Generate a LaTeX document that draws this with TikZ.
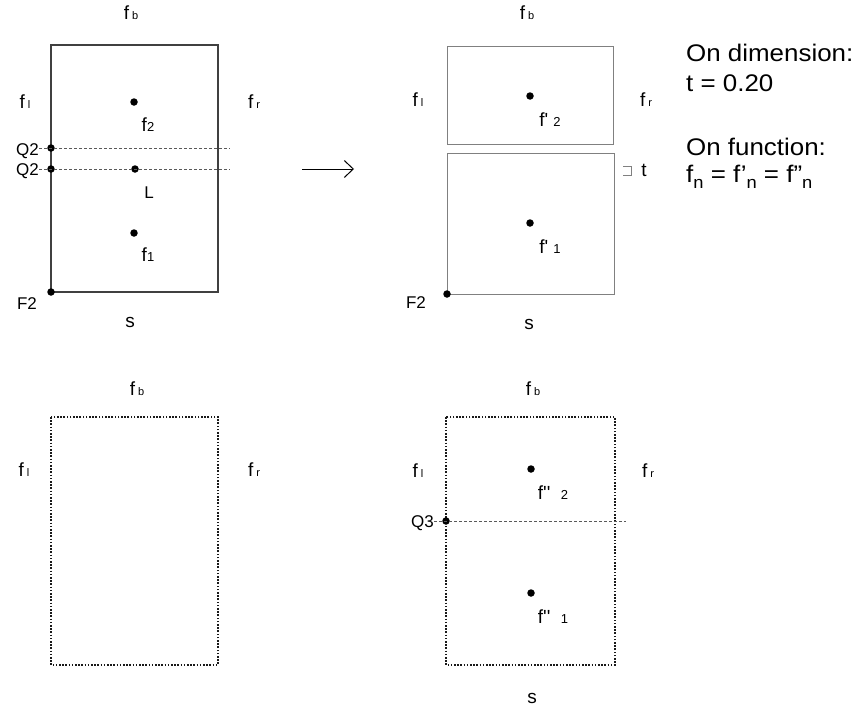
\documentclass[tikz,border=0pt]{standalone}
\usepackage{fontspec}
\setmainfont{Liberation Sans}
\newfontfamily\labf{Liberation Sans}
\newfontfamily\bigf{Liberation Sans}[FakeStretch=1.08]
\usetikzlibrary{arrows.meta}
\newcommand{\lbl}{\labf\fontsize{17}{17}\selectfont}
\newcommand{\flbl}{\labf\fontsize{19}{19}\selectfont}
\newcommand{\sml}[1]{{\fontsize{11}{11}\selectfont #1}}
\newcommand{\num}[1]{{\fontsize{13}{13}\selectfont #1}}
\newcommand{\fside}[1]{f\kern3pt\sml{#1}}
\newcommand{\nsub}{\raisebox{-6pt}{\fontsize{17}{17}\selectfont n}}
\begin{document}
\begin{tikzpicture}[x=1pt,y=-1pt,
  lab/.style={font=\lbl, inner sep=0pt},
  flab/.style={font=\flbl, inner sep=0pt},
  big/.style={font=\bigf\fontsize{24}{24}\selectfont, inner sep=0pt, anchor=base west},
  dot/.style={circle, fill=black, inner sep=0pt, minimum size=7.5pt},
  boxA/.style={draw=black!75, line width=1.1pt},
  boxB/.style={draw=black!50, line width=1pt},
  dotbox/.style={draw=black!90, line width=1.7pt, dash pattern=on 1.6pt off 1.6pt},
  qline/.style={draw=black!65, line width=0.9pt, dash pattern=on 3pt off 2pt},
  arr/.style={-{Straight Barb[length=9pt,width=17pt,line width=1pt]}, line width=1pt}
]
\useasboundingbox (0,0) rectangle (860,707);

% ---------- top-left panel ----------
\draw[boxA] (51,45) rectangle (218,292);
\node[flab] (fbA) at (131,13) {\fside{b}};
\node[flab] (flA) at (25,102) {\fside{l}};
\node[flab] (frA) at (254,102) {\fside{r}};
\node[flab] (sA) at (130,322) {s};
\node[dot] (f2A) at (134,102) {};
\node[flab] (f2Al) at (148,125) {f\num{2}};
\node[dot] (LA) at (135,169) {};
\node[lab] (LAl) at (149,193) {L};
\node[dot] (f1A) at (134,233) {};
\node[flab] (f1Al) at (148,255) {f\num{1}};
\node[dot] (q2a) at (51,148) {};
\node[dot] (q2b) at (51,169) {};
\node[lab, anchor=east] (q2al) at (39,151) {Q2};
\node[lab, anchor=east] (q2bl) at (39,171) {Q2};
\coordinate (q2aend) at (230,148);
\coordinate (q2bend) at (230,169);
\draw[qline] (q2al.east |- q2a) -- (q2aend);
\draw[qline] (q2bl.east |- q2b) -- (q2bend);
\node[dot] (F2A) at (51,292) {};
\node[lab] (F2Al) at (27,304) {F2};

% ---------- arrow ----------
\coordinate (arS) at (302,169);
\coordinate (arE) at (354,169);
\draw[arr] (arS) -- (arE);

% ---------- top-right panel ----------
\draw[boxB] (447,46) rectangle (613,144);
\draw[boxB] (447,153) rectangle (614,294);
\node[flab] (fbB) at (527,13) {\fside{b}};
\node[flab] (flB) at (418,100) {\fside{l}};
\node[flab] (frB) at (646,100) {\fside{r}};
\node[flab] (sB) at (529,324) {s};
\node[dot] (f2B) at (530,96) {};
\node[flab] (f2Bl) at (550,120) {f' \num{2}};
\node[dot] (f1B) at (530,223) {};
\node[flab] (f1Bl) at (550,247) {f' \num{1}};
\node[dot] (F2B) at (447,294) {};
\node[lab] (F2Bl) at (416,303) {F2};
\draw[draw=black!50, line width=1pt] (623,166) -- (631,166) -- (631,175) -- (623,175);
\node[flab] (tB) at (644,170) {t};

% ---------- text ----------
\node[big] (t1) at (686,61) {On dimension:};
\node[big] (t2) at (686,91) {t = 0.20};
\node[big] (t3) at (686,155) {On function:};
\node[big] (t4) at (686,182) {f\nsub{} = f’\nsub{} = f”\nsub};

% ---------- bottom-left panel ----------
\draw[dotbox] (51,417) rectangle (218,665);
\node[flab] (fbC) at (137,389) {\fside{b}};
\node[flab] (flC) at (24,470) {\fside{l}};
\node[flab] (frC) at (254,470) {\fside{r}};

% ---------- bottom-right panel ----------
\draw[dotbox] (446,417) rectangle (615,665);
\node[flab] (fbD) at (533,389) {\fside{b}};
\node[flab] (flD) at (418,471) {\fside{l}};
\node[flab] (frD) at (648,471) {\fside{r}};
\node[flab] (sD) at (532,698) {s};
\node[dot] (f2D) at (531,469) {};
\node[flab] (f2Dl) at (553,493) {f''\ \ \num{2}};
\node[dot] (f1D) at (531,593) {};
\node[flab] (f1Dl) at (553,617) {f''\ \ \num{1}};
\node[dot] (q3) at (446,521) {};
\node[lab, anchor=east] (q3l) at (434,523) {Q3};
\coordinate (q3end) at (626,521);
\draw[qline] (q3l.east |- q3) -- (q3end);
\end{tikzpicture}
\end{document}
